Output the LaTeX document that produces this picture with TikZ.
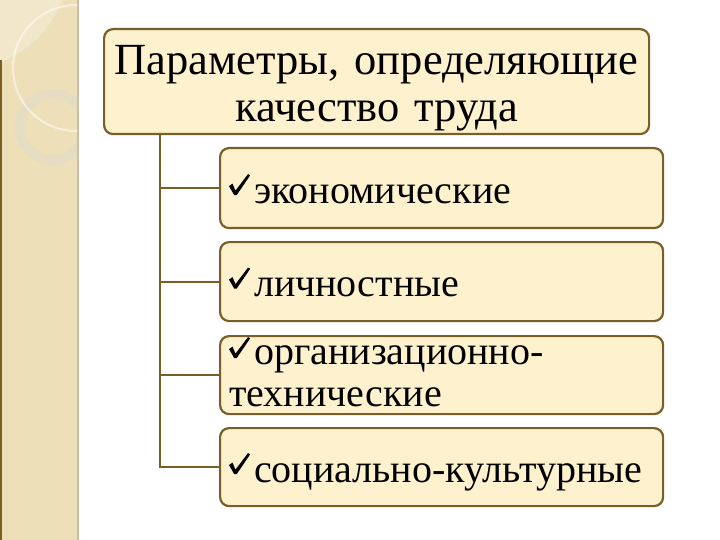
\documentclass[tikz,border=0pt]{standalone}
\usepackage{fontspec}
\setmainfont{Liberation Serif}
\usepackage{tikz}
\usetikzlibrary{positioning}

\definecolor{stripe}{RGB}{237,224,184}
\definecolor{stripelight}{RGB}{241,231,203}
\definecolor{ringcol}{RGB}{230,220,193}
\definecolor{stripeedge}{RGB}{205,190,168}
\definecolor{boxfill}{RGB}{254,242,206}
\definecolor{boxline}{RGB}{122,94,40}
% tick drawn in front of an item, (#1) = its lower left corner
\newcommand{\tick}[1]{\fill[black] (#1) ++(0,-9) -- ++(3.5,-2.5) -- ++(3,7)
  -- ++(12.5,-16.5) -- ++(2.2,1.2) -- ++(-13.5,19.8) -- ++(-2.5,0) -- cycle;}

\begin{document}
\begin{tikzpicture}[x=1pt,y=-1pt,
  titlebox/.style={draw=boxline,line width=2.2pt,fill=boxfill,rounded corners=9pt,
    inner sep=0pt,text width=525pt,align=center,anchor=north west,
    font=\fontsize{44.5}{47}\selectfont},
  itembox/.style={draw=boxline,line width=2.2pt,fill=boxfill,rounded corners=9pt,
    anchor=north west,minimum width=443pt,text width=425pt,inner xsep=9pt,
    inner ysep=0pt,align=left,font=\fontsize{40}{42}\selectfont},
  link/.style={draw=boxline,line width=1.8pt}]
\useasboundingbox (0,0) rectangle (720,540);

% side stripe
\begin{scope}
\clip (0,0) rectangle (78,540);
\fill[stripe] (0,0) rectangle (78,540);
\fill[stripelight] (-40,-40) circle (110);
\draw[ringcol,line width=10pt] (53,127) circle (33);
\draw[white,opacity=0.5,line width=2pt] (76,68) circle (63);
\end{scope}
\draw[stripeedge,line width=2pt] (78,0) -- (78,540);
\draw[boxline,line width=1.5pt] (0.75,60) -- (0.75,540);

\node[titlebox,minimum width=545pt,minimum height=105pt,text height=34pt,text depth=49pt]
  (title) at (103,28) {Параметры, определяющие\\качество труда};
\node[itembox,minimum height=80pt,text height=38pt,text depth=8pt] (econ) at (219,147)
  {\hspace*{25pt}экономические};
\node[itembox,minimum height=79pt,text height=38pt,text depth=8pt] (pers) at (219,241)
  {\hspace*{25pt}личностные};
\node[itembox,minimum height=78pt,text height=28pt,text depth=50pt] (org) at (219,335)
  {\hspace*{25pt}организационно-\\технические};
\node[itembox,minimum height=78pt,text height=38pt,text depth=8pt] (soc) at (219,427)
  {\hspace*{25pt}социально-культурные};

\tick{[shift={(10,7)}]econ.west}
\tick{[shift={(10,7)}]pers.west}
\tick{[shift={(10,-17)}]org.west}
\tick{[shift={(10,7)}]soc.west}

\coordinate (trunk) at (160,133);
\foreach \n in {econ,pers,org,soc}
  \draw[link] (trunk) |- (\n.west);

\end{tikzpicture}
\end{document}
